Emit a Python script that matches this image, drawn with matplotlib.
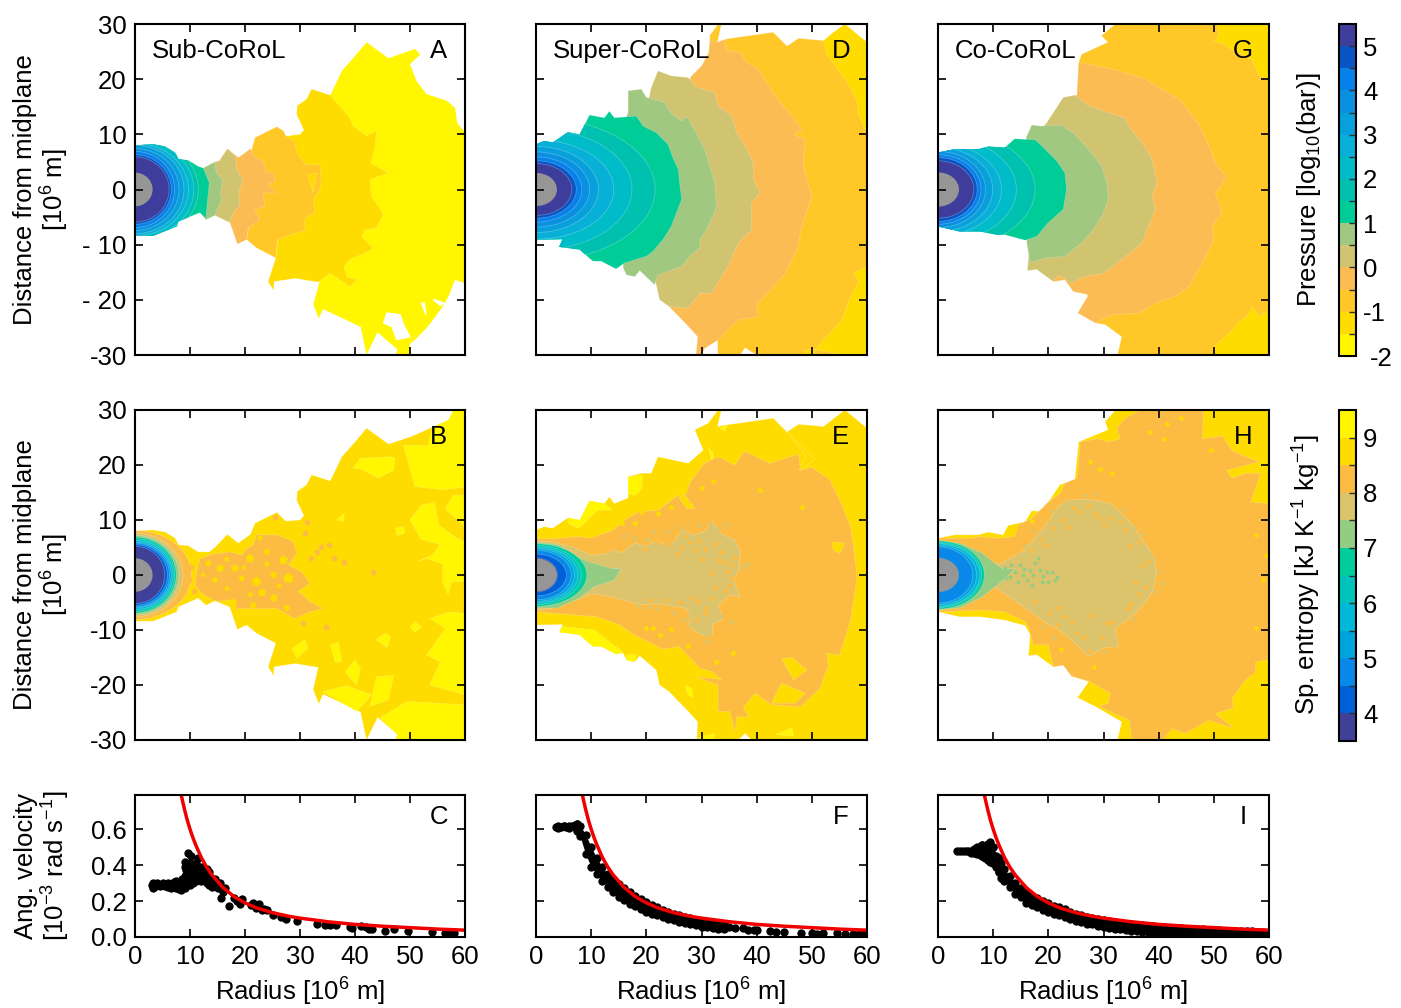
import matplotlib
matplotlib.use("Agg")
import matplotlib.pyplot as plt
from matplotlib.cm import ScalarMappable
from matplotlib.colors import BoundaryNorm, ListedColormap
from matplotlib.patches import Ellipse

plt.rcParams['font.family'] = ['Liberation Sans', 'DejaVu Sans']
plt.rcParams['mathtext.fontset'] = 'custom'
plt.rcParams['mathtext.rm'] = 'Liberation Sans'
plt.rcParams['mathtext.it'] = 'Liberation Sans'
plt.rcParams['mathtext.default'] = 'regular'

# colour scales (low value first)
pressure_edges = [-2, -1.5, -1, -0.5, 0, 0.5, 1, 1.5, 2, 2.5, 3, 3.5, 4, 4.5, 5, 5.5]
pressure_colours = ['#fff600', '#ffdc00', '#ffc828', '#fcbc54', '#d0c470', '#a0c880', '#00cc98', '#00c0b0',
                    '#00bcc8', '#08b0d8', '#08a0da', '#0a90e0', '#0880ea', '#0a55c4', '#3e3d9c']
entropy_edges = [3.5, 4, 4.5, 5, 5.5, 6, 6.5, 7, 7.5, 8, 8.5, 9, 9.5]
entropy_colours = ['#404098', '#0060d8', '#0888e8', '#00a4dc', '#00b8d8', '#00c4bc', '#00cc9c', '#94cc84',
                   '#dcc46c', '#fcbc44', '#ffdc00', '#fff600']

# ---- panel A, pressure contours (radius, height), 10^6 m
A_yellow = [(35.5, 17.1), (37.6, 21.5), (40, 24.2), (42.1, 26.7), (46.1, 23.8), (50.9, 25.5), (51.9, 24.5), (50, 22.7),
            (51.2, 19.7), (53, 17.3), (56.7, 16.1), (58.2, 14.8), (58.6, 12.1), (60, 10.3), (61, 10.3), (61, -17),
            (60, -17), (58.2, -16.4), (57, -19.4), (56, -21.2), (53.3, -24.8), (51.2, -27), (50, -28), (50, -31),
            (47, -31), (47.7, -29), (44.1, -25.9), (42.1, -30), (41, -24.9), (34.2, -21.7), (33.4, -23.4),
            (32.4, -20.8), (33.5, -16.9)]
A_gold = [(27.6, 9.7), (30, 10), (30.7, 10.8), (29.4, 13.6), (29.5, 15.2), (31.2, 16.4), (32.1, 18.2), (35.5, 17.1),
          (38.8, 13.3), (39.7, 11.5), (42.1, 9.7), (43.9, 10.6), (43.6, 7.3), (42.8, 4.8), (46.1, 3), (42.7, 1.8),
          (43, -1.2), (45.2, -4.5), (43.9, -7), (41.8, -7.3), (41.2, -8.5), (43.3, -10.6), (42.4, -11.2), (39.1, -12.7),
          (38, -13.9), (38.5, -15.8), (40.4, -16.4), (39.1, -17.6), (35.5, -15.2), (33.3, -16.8), (29.1, -16.1),
          (25.3, -16.7), (25.2, -18.3), (24.2, -16.7), (25.6, -12.4), (25.9, -9.1)]
A_orange = [(21.8, 9.4), (25.8, 11.4), (27, 10.6), (27.4, 9.8), (29.1, 8.5), (29.4, 6.7), (30.3, 5.5), (31.2, 4.5),
            (33.6, 4.5), (33.9, 1.8), (33.6, 0), (32.4, -1.8), (32.7, -4.2), (30.9, -5.2), (30.9, -7.3), (25.9, -9.1),
            (25.6, -12.4), (22.1, -10.6), (20.3, -9.1), (20.6, -7), (18, -5)]
A_light = [(16.8, 7.4), (18.8, 5.8), (21, 7.4), (21.8, 5.8), (23.3, 5.2), (23.9, 3), (25.2, 3), (25.4, 1.5), (24.3, 1),
           (25.5, -0.6), (23.3, -0.6), (23.6, -3), (21.8, -3.6), (22.7, -5.5), (20.6, -7), (20.3, -9.1), (18.6, -9.9),
           (17.2, -5.8), (15, 0)]
A_tan = [(14.5, 5), (15.3, 5.2), (16.8, 7.4), (18.2, 6.1), (18.5, 3.6), (19.6, 1.7), (18.8, -0.6), (19.1, -2.7),
         (17.9, -4.2), (17.2, -6), (14.5, -4.7), (13, 0)]
A_green = [(12.4, 3.9), (14.5, 5), (14.8, 3), (15.9, 1.7), (15.5, -0.9), (15.8, -1.8), (14.5, -4.7), (12.9, -5.5),
           (11.8, -4.2), (11, 0)]
A_teal = [(0, 8), (3.3, 8.2), (5.5, 7.8), (7.3, 6.7), (7.9, 5.5), (9.7, 5.3), (11.5, 4.2), (12.4, 3.9), (13.5, 1.2),
          (13.2, -1.8), (12.9, -5.2), (11.8, -4.2), (7.9, -5.8), (7.6, -6.7), (3.3, -8.4), (0, -8.4)]
A_gold_bit = [(31.4, 2.7), (33, 3), (32.4, -0.6)]
A_hole_1 = [(45.8, -22.4), (48.2, -22.7), (48.8, -24.5), (50, -26.7), (47.6, -27.2), (46.7, -24.8), (45.2, -24.2)]
A_hole_2 = [(52.1, -20.6), (52.6, -20.6), (52.9, -22.7)]
A_hole_3 = [(54.2, -19.9), (56.2, -20.6), (55.5, -21)]
A_ring_levels = [1.75, 2.25, 2.75, 3.25, 3.75, 4.25, 4.75, 5.25]
A_ring_a = [11.5, 10.7, 9.7, 8.9, 8, 7.2, 6.6, 6.2]
A_ring_b = [9.5, 9, 8.4, 8, 7.4, 6.9, 6.3, 5.9]
A_core = (3.2, 3.05)

# ---- panel D
D_orange = [(31.5, 27.9), (33, 30), (33.6, 30), (32.9, 26.7), (34.6, 27.3), (38, 27.8), (43, 28.5), (45.5, 26),
            (47.6, 27.4), (52.1, 27), (61, 27), (61, -31), (40, -31), (40, -30), (37.9, -28.7), (37, -30), (37, -31),
            (33, -31)]
D_gold_top = [(52.1, 27), (53.9, 28.5), (56, 30), (60, 26.7), (61, 26), (61, 10.5), (59.7, 10.6), (58.4, 14),
              (58.1, 16.4), (56, 20), (52.7, 24.5)]
D_gold_low = [(60, -13.9), (57.6, -15.2), (58.5, -16.7), (57, -19.4), (55.5, -23.6), (50.6, -29), (50, -31), (48.8, -31),
              (48.8, -29.2), (50, -29), (50.6, -29), (61, -31), (61, -13.9)]
D_light = [(28, 20.4), (30, 22.4), (31.3, 24.8), (31.5, 27), (32.9, 26.7), (34.2, 27.2), (34.5, 25.2), (37.3, 24.8),
           (37.9, 23.3), (40.3, 21.8), (42.7, 17.9), (44.5, 15.5), (46.4, 13.3), (48.2, 10.8), (46.7, 10), (48.7, 9.1),
           (48.5, 4.2), (50, -1.3), (48.2, -6.7), (47.3, -10.9), (45.2, -15.2), (43.6, -17), (40, -20.9), (40.3, -23),
           (36.7, -23.6), (33, -27.3), (30.6, -28.8), (29.4, -31), (29, -30), (29.3, -26.7), (27.6, -24.8), (24.1, -21.2),
           (22, -15)]
D_tan = [(20.9, 18.5), (22.1, 21.5), (24.5, 20.6), (27.6, 20.3), (29.1, 18.5), (32.4, 17.6), (33, 15.2), (35.5, 13.3),
         (36.4, 10.3), (37.9, 7.9), (39.4, 4.8), (39.4, 1.8), (40.6, -0.5), (39.1, -2.4), (39.1, -7.3), (36.7, -9.7),
         (34.8, -13.9), (33.6, -15.8), (31.8, -18.8), (29.7, -18.8), (27.6, -21.5), (24.1, -21.2), (22.4, -20),
         (21.8, -17.3), (20, -10), (19, 10)]
D_green = [(16.7, 17.9), (19.1, 18.2), (20, 16.7), (23.3, 15.8), (24.5, 13.9), (26.4, 12.4), (27.3, 13.3), (28.2, 11.8),
           (30.6, 7.3), (31.5, 4.2), (32.4, 1.2), (32.7, -3.3), (31.2, -6.7), (29.7, -9.1), (29.7, -10.6), (28.2, -11.8),
           (26.4, -13.9), (22.1, -15.5), (21.5, -17.3), (18.8, -14.7), (17.9, -15.8), (16.4, -15.5), (15.8, -14.2),
           (16, 12), (16.7, 14)]
D_teal = [(0, 8.2), (1.5, 8.8), (3, 8.5), (5.8, 10.4), (7.9, 10), (9.7, 13.5), (12.4, 13), (13.3, 14.2), (14.2, 13),
          (18.2, 13.3), (19.4, 11.5), (21.8, 10.3), (23.9, 8.2), (24.8, 5.8), (25.8, 3.6), (26.1, 0.6), (26.4, -1.8),
          (24.5, -6.7), (23, -9.1), (21.2, -11.2), (20, -12.1), (16.1, -13.3), (14.5, -14.4), (11.8, -13), (10.3, -13),
          (7.9, -10.9), (4.2, -10.4), (4.8, -9), (0, -9.1)]
D_ring_levels = [1.75, 2.25, 2.75, 3.25, 3.75, 4.25, 4.75, 5.25]
D_ring_a = [21.6, 17.4, 14.1, 11.3, 9.7, 8.3, 7.3, 6.5]
D_ring_b = [13, 11, 9, 7.8, 6.8, 5.9, 5.2, 4.7]
D_core = (3.8, 3)

# ---- panel G
G_orange = [(32.4, 30.2), (29.6, 27.9), (30.8, 26.7), (26, 24.5), (25.5, 23), (25.2, 17.3), (24, 10), (27, -19),
            (28.5, -24.2), (30.3, -24.5), (33.3, -26.7), (32.3, -31), (61, -31), (61, 30.2)]
G_gold_top = [(50.6, 30.2), (50.9, 27.6), (49.7, 26.7), (51.2, 26.7), (53.6, 25.2), (56.9, 23.6), (58.2, 20.6),
              (59.7, 20), (61, 20), (61, 30.2)]
G_gold_low = [(49.9, -31), (50, -28.5), (53.3, -25.5), (54.5, -24), (56, -23), (57, -21.2), (58.2, -23), (59.7, -22.1),
              (61, -20.6), (61, -31)]
G_light = [(25.5, 23), (30.3, 22.1), (32.7, 21.5), (37.6, 20), (40, 18.5), (43.6, 16.4), (45.5, 14.2), (47.3, 11.8),
           (49.1, 7.9), (50.3, 4.8), (52.4, 2.1), (50.3, -0.6), (51.5, -4.2), (49.7, -6.7), (50, -9.1), (47.9, -13.3),
           (45.5, -17.6), (43, -19.4), (39.4, -20.6), (36.4, -22.4), (31.5, -22.7), (28.5, -24.2), (25.3, -22.4),
           (27.3, -19.1), (24.5, -18.5), (23, -16.4), (20.9, -16.7), (22, 10), (22.7, 16.5), (25.2, 17.1)]
G_tan = [(22.7, 16.7), (24.8, 17.1), (27.3, 15.2), (30.9, 13.9), (33.9, 13), (34.5, 11.5), (37, 8.5), (38.8, 5.5),
         (39.7, 1.2), (38.8, -1.2), (39.4, -3.6), (37.9, -7.3), (37, -9.7), (33.3, -12.7), (30, -15.2), (26.4, -15.8),
         (24.2, -17), (21.8, -15.5), (20.9, -16.7), (17.9, -14.5), (16.2, -14.7), (17, -5), (17, 9), (19.7, 12.1)]
G_green = [(17, 11.7), (18.5, 11.5), (22.4, 11.7), (24.8, 10), (27.3, 7.3), (29.7, 4.2), (30.6, 1.2), (30.9, -1.8),
           (29.7, -4.8), (27.9, -7.6), (26, -9.7), (23, -12.1), (19.7, -12.4), (16.7, -13.2), (16.1, -9.7), (16, 9.5)]
G_teal = [(0, 6.7), (3, 7.3), (7.3, 7.3), (9.1, 7.8), (12.1, 7.6), (13.9, 9.2), (17.6, 9), (18.5, 8.2), (21.5, 5.2),
          (23, 3), (23.3, 0), (22.7, -3.6), (20, -6), (17.9, -8.5), (15.8, -9.2), (12.1, -8.2), (10.6, -8.2), (7.6, -7.6),
          (3.9, -7.6), (0, -6.7)]
G_ring_levels = [1.75, 2.25, 2.75, 3.25, 3.75, 4.25, 4.75, 5.25]
G_ring_a = [17.6, 14.2, 11.5, 9.9, 8.6, 7.8, 7.1, 6.5]
G_ring_b = [11, 9.6, 8.4, 7.6, 6.9, 6.3, 5.8, 5.2]
G_core = (3.8, 3.1)

# ---- panel B, entropy contours
B_gold = [(0, 8), (3.3, 8.2), (5.5, 7.8), (7.3, 6.7), (7.9, 5.5), (9.7, 5.3), (11.5, 4.2), (13.5, 4.2), (14.5, 5),
          (16.8, 7.4), (18.8, 5.8), (21, 7.4), (21.8, 9.4), (25.8, 11.4), (27.4, 9.8), (30, 10), (30.7, 10.8),
          (29.4, 13.6), (29.5, 15.2), (31.2, 16.4), (32.1, 18.2), (35.5, 17.1), (37.6, 21.5), (40, 24.2), (42.1, 26.7),
          (46.1, 23.8), (50.3, 25.2), (57, 28.2), (57.9, 30), (61, 30.2), (61, -31), (47, -31), (47.7, -29), (44.1, -25.9),
          (42.1, -30), (41, -24.9), (34.2, -21.7), (33.4, -23.4), (32.4, -20.8), (33.3, -16.8), (29.1, -16.1),
          (25.3, -16.7), (25.2, -18.3), (24.2, -16.7), (25.6, -12.4), (22.1, -10.6), (20.3, -9.1), (18.6, -9.9),
          (17.2, -5.8), (14.5, -4.7), (12.9, -5.5), (11.5, -4.2), (7.9, -5.8), (7.6, -6.7), (3.3, -8.4), (0, -8.4)]
B_yellow_1 = [(48.8, 23.6), (50.9, 16.1), (55.5, 15.5), (59.7, 15.9), (61, 15.9), (61, 30.2), (57.9, 30), (57, 28.2),
              (54, 26.8), (53.3, 23.6)]
B_yellow_2 = [(39.7, 19.4), (40.9, 21.2), (46.4, 21.5), (47.3, 21.2), (47, 19), (44.2, 17.6), (40.9, 19.4)]
B_yellow_3 = [(28.6, -13.3), (30.9, -11.8), (31.5, -13.3), (29.4, -15.2)]
B_yellow_4 = [(35.5, -12.7), (37, -12.2), (37.6, -15.8), (36.4, -15.8)]
B_yellow_5 = [(38.2, -17.6), (40, -15.5), (41, -16.9), (40.3, -20)]
B_yellow_6 = [(43.9, -18.5), (47, -18.2), (46.1, -22.7), (42.7, -23.9)]
B_yellow_7 = [(34.2, -21.2), (38.5, -20.1), (43, -21.8), (40.3, -24.8)]
B_yellow_8 = [(44.5, -26), (49.4, -23), (60, -23.6), (61, -23.6), (61, -31), (47, -31), (47.7, -29)]
B_yellow_9 = [(53.6, -7.9), (57.3, -6.7), (60, -7), (61, -7), (61, -22), (57.9, -21.2), (53.6, -20), (55.5, -15.8),
              (53, -14.5), (53.9, -13.3), (56.4, -9.7)]
B_yellow_10 = [(43.8, -11.8), (45.5, -10.6), (46.5, -11.2), (45.8, -13.2)]
B_yellow_11 = [(50, -9.4), (50.9, -8.5), (52.1, -9.4), (50.9, -10.4)]
B_yellow_12 = [(47.3, 8.5), (48.8, 8.8), (49.1, 7.6), (47.6, 7.2)]
B_yellow_13 = [(36.7, 10), (38, 11.2), (38, 9.7)]
B_yellow_14 = [(50, 10), (52.1, 12.7), (54.5, 13.3), (55.2, 9.1), (58.5, 6.7), (61, 5.5), (61, -1.2), (57.6, -1.2),
               (56.9, -3.6), (55.9, -1.2), (56, 2), (53, 3), (51.2, 2.4), (54, 3.6), (55.5, 5.5), (52, 6.5)]
B_yellow_15 = [(56.4, 12), (57.9, 14.5), (61, 14.5), (61, 7.3), (59, 9.7)]
B_light = [(11.8, 3), (14.2, 3.8), (17.3, 4.2), (19.4, 3.6), (20.3, 4.8), (21.5, 5.5), (22.1, 7.3), (25.8, 7.3), (28.8, 6.1),
           (29.4, 3.9), (27.9, 1.8), (30.3, 0.6), (31.8, -1.5), (29.7, -3), (31.8, -4.8), (34.2, -6.1), (31.8, -6.7),
           (29.1, -7.9), (25.8, -6.1), (22.7, -6.1), (18.5, -6.1), (17.3, -4.5), (14.8, -4.8), (12.4, -3.6), (10.9, -1.8),
           (11.2, 0.6)]
B_gold_dots_r = [13.3, 15.5, 16.7, 18.2, 20.9, 19.4, 22.1, 25.2, 27.9, 27, 23.9, 22.7, 17.9, 21.5, 16.7, 14.5, 12.4, 25.2,
                 27.6, 24, 19.8, 23.1, 21, 26.2]
B_gold_dots_z = [2.1, 1.2, 2.9, 1.2, 3, -0.6, -1.2, 0, -0.6, 2.7, 4.2, 6.7, -5, -5.5, -2.5, -0.9, 0, -4.2, -6, 2, 1.4,
                 -3.2, -3.6, -2]
B_gold_dots_s = [22, 34, 16, 30, 44, 20, 52, 28, 60, 46, 24, 18, 38, 26, 14, 20, 12, 32, 26, 18, 12, 36, 16, 14]
B_light_dots_r = [33, 30.9, 31.2, 25.5, 34.8, 43.3, 32, 33.8, 36.2, 38, 30.5, 35.3, 10.2, 9.8, 10.8]
B_light_dots_z = [4.2, 7.6, 9.7, 10.6, -9.4, 0.6, 3, 5, 3, 2.4, -8.8, 5.5, 1.5, -1, -3]
B_ring_levels = [8.25, 7.75, 7.25, 6.75, 6.25, 5.75, 5.25, 4.75, 4.25, 3.75]
B_ring_a = [10.3, 8.7, 8, 7.5, 7.2, 6.9, 6.6, 6.3, 5.9, 5.4]
B_ring_b = [8.1, 7.6, 7.2, 6.9, 6.6, 6.3, 6, 5.8, 5.5, 5.2]
B_core = (3.2, 3.05)

# ---- panel E
E_gold = [(0, 8.2), (1.5, 8.8), (3, 8.5), (5.8, 10.4), (7.9, 10), (9.7, 13.5), (12.4, 13), (13.3, 14.2), (14.2, 13),
          (16.7, 14), (16.7, 17.9), (19.1, 18.5), (20.9, 18.5), (22.1, 21.5), (27.6, 20.3), (30.3, 22.7), (28.8, 26.4),
          (31.2, 27.6), (33, 30), (33.6, 30), (32.9, 27), (34.5, 27.3), (38.2, 27.8), (43, 28.5), (45.5, 26), (47.6, 27.4),
          (52.1, 27), (56, 30), (60, 26.7), (61, 26.7), (61, -31), (40, -31), (37.9, -28.8), (36.7, -30), (29.1, -31),
          (29.3, -26.7), (27.6, -24.8), (24.1, -21.2), (22.4, -20), (21.8, -17.3), (18.8, -14.7), (17.9, -15.8),
          (16.4, -15.5), (15.8, -14.2), (14.5, -14.4), (11.8, -13), (10.3, -13), (7.9, -10.9), (4.2, -10.4), (4.8, -9),
          (0, -9.1)]
E_yellow_1 = [(5.8, 10.4), (7.9, 10), (9.7, 13.5), (12.4, 13), (13.9, 11.8), (11.2, 11.8), (9.4, 10), (7.6, 8.5), (5.8, 9.4)]
E_yellow_2 = [(16.7, 17.9), (19.4, 18.2), (19.1, 15.5), (17.9, 14.5), (16.7, 14.8)]
E_yellow_3 = [(4.2, -10.4), (4.8, -9.4), (7.9, -9.7), (10.6, -10), (13.6, -12.4), (15.8, -14), (14.5, -14.4), (11.8, -13),
              (10.3, -13), (7.9, -10.9)]
E_yellow_4 = [(16.4, -15.5), (16.4, -14.5), (18.2, -14.5), (17.9, -15.8)]
E_yellow_5 = [(43.4, -29), (46.4, -27.8), (46.7, -29.3)]
E_yellow_6 = [(29, -29.7), (32.4, -28.8), (32.4, -30)]
E_yellow_7 = [(27, -20), (28.2, -20.6), (28.5, -22.4), (27.6, -21.8)]
E_yellow_8 = [(31.2, 23.3), (32.1, 22.1), (32.1, 20)]
E_yellow_9 = [(33.3, 26.7), (34.8, 27.3), (34.2, 26.1)]
E_light = [(0, 6.6), (3.3, 6.6), (7.6, 7), (10, 6.7), (14, 8.2), (16.1, 10), (18.5, 11.5), (22.1, 11.8), (25.8, 14.5),
           (26.8, 14), (28, 17), (30.5, 20.3), (33, 21.5), (36, 20), (37.8, 22.5), (42.4, 20.3), (47.6, 22), (48, 19),
           (50, 19.6), (53.3, 17.3), (55.1, 13.6), (57, 8.9), (57.6, 5), (58.2, -0.3), (57, -8.5), (55, -14.6), (52.7, -14.2),
           (53, -16.4), (51.5, -20.6), (47.9, -24), (42.7, -23.6), (39.7, -21.5), (37.6, -24), (38.5, -25.8), (36.4, -25.8),
           (36.1, -28.5), (35.1, -24.8), (33, -24.8), (33, -20), (29, -18.5), (33.6, -19), (31.8, -17.5), (29.7, -17),
           (26, -13), (23, -13.5), (18, -11), (15, -9), (11, -7.6), (0, -6.7)]
E_gold_1 = [(44.5, -15.2), (46.4, -15), (49.1, -17.3), (46.7, -19.1)]
E_gold_2 = [(44.5, -19.7), (48.8, -21.5), (47, -23.3), (42.7, -23.3)]
E_gold_3 = [(53.6, 6), (56, 5.8), (55.1, 3.9), (53.9, 4.5)]
E_gold_4 = [(27, 14.5), (28.8, 12.1), (27.3, 12.1), (25.9, 14.2)]
E_gold_5 = [(45.5, 26), (48.9, 21.7), (47.6, 19), (50, 20.6), (50.6, 21), (46, 25.5)]
E_tan = [(0, 6.2), (3, 6), (7, 5), (10, 3.6), (13, 3.9), (14, 4.6), (15.5, 4), (17, 5.2), (18, 5.8), (20, 5.2), (22, 6.4), (23.5, 5.4),
         (25, 6), (26.5, 8.2), (28.5, 7.2), (30.6, 8), (32, 9.6), (33, 8), (34.5, 7), (36, 6.4), (37, 4.5), (36.8, 1), (35.8, -1),
         (37, -4), (35.2, -3.6), (33, -5.5), (34, -8), (32, -9), (32, -10.9), (30, -10.9), (27.5, -9.4), (28.2, -7.5), (27, -6),
         (24.5, -5.6), (22, -5.2), (19, -5.4), (16, -4.6), (13, -3.8), (10, -3.4), (6, -5), (3, -6), (0, -6.4)]
E_green = [(0, 6), (4, 5.5), (8.2, 3), (9.6, 2.4), (13.6, 1.2), (15.4, 1.1), (14.2, -0.9), (10.6, -2.1), (7.9, -4.2),
           (3.9, -6), (0, -6)]
E_light_dots_r = [28.8, 30.6, 27.9, 34.2, 35.5, 32.4, 34.2, 29.4, 30.9, 33.6, 31.8, 27.3, 30.6, 35.5, 28.2, 31.8, 26.2, 29.5,
                  33.2, 24, 22, 35, 19.5, 25.5, 27, 30, 32.5, 29, 26, 23.5, 36, 34.8, 20.7]
E_light_dots_z = [4.5, 4.8, 6, 2.4, -0.6, -2.4, -3, -4.8, -6, 4.2, 0.3, -9.4, -7, 1.8, -4.2, -4.2, 5, 6.2, 2.8, 5.5, 6, -1.8,
                  4.8, 3.8, 7, 2.9, 5.6, -8.2, -4.9, -4.5, 3, 0.7, -4.6]
E_tan_dots_r = [26.4, 31.5, 33, 37.6, 27.5, 16, 17.9, 20.2, 22, 24.5, 30.9, 35.5, 18.5, 20.5, 28, 33.5, 25, 24, 29.5, 34.5, 31, 21.3,
                26.8, 38.2]
E_tan_dots_z = [8.5, 9.4, 8.5, 1.5, 7.2, 7, 6.7, 6.5, -6, -5.2, -10.9, -8.5, -5.4, -5.8, -7.5, -7.5, -7, 8, 9, 9.3, -12, 7.8, -8, 2]
E_gold_dots_r = [22.1, 24.5, 19.1, 27, 30, 32.1, 48.2, 40.6, 21.2, 14.5, 17.9, 24.8, 32.7, 35.8, 27.6, 20, 22.5, 15.5, 18, 24.5]
E_gold_dots_z = [11.2, 12.4, 11.5, 15.5, 15.8, 17, 12.4, 15.5, -9.7, -11.8, -11.8, -13.9, -15.8, -14.2, -13, -9.7, -11, 9.5, 9.5,
                 -9.8]
E_ring_levels = [6.75, 6.25, 5.75, 5.25, 4.75, 4.25, 3.75]
E_ring_a = [9.2, 8.2, 7.6, 7, 6.4, 5.5, 3.9]
E_ring_b = [5.7, 5.4, 5.1, 4.8, 4.5, 3.8, 3.1]
E_core = (3.8, 3)

# ---- panel H
H_gold = [(0, 6.7), (3, 7.3), (7.3, 7.3), (9.1, 7.8), (11.8, 7.3), (12.7, 9), (15.8, 9.7), (17, 11.7), (18.8, 11.5),
          (22.1, 16.4), (24.8, 17.3), (25.5, 24.2), (30.8, 26.4), (30.3, 27.9), (32.4, 30.2), (61, 30.2), (61, -31),
          (32.3, -31), (33.3, -26.7), (28.5, -23.9), (25.3, -22.3), (27.3, -19.4), (24.2, -18.4), (22.7, -16.4),
          (20.9, -16.7), (17.9, -14.5), (16.4, -14.7), (16.7, -10.9), (15.8, -9.2), (12.1, -8.2), (7.6, -7.6), (3.9, -7.6),
          (0, -6.7)]
H_light = [(0, 6.7), (6, 6.7), (7.6, 7), (11.2, 6.7), (13.9, 7), (14.5, 9.1), (17, 10.3), (20, 13.3), (22.1, 14.8), (23, 16.7),
           (25.2, 17.6), (25.8, 24.2), (29.1, 24.8), (30.9, 24.2), (33, 24.8), (32.4, 26.7), (33.9, 28.5), (36.4, 29.9),
           (61, 30.2), (61, -31), (35.2, -31), (34.7, -26.4), (33.3, -25.8), (29.1, -23.9), (30.9, -23.3), (31.2, -21.5),
           (27.3, -19.3), (24.2, -18.4), (22.7, -16.4), (20.9, -16.7), (20, -12.7), (17.3, -12.7), (16.4, -9.4), (15.8, -8.5),
           (12.1, -6.7), (7.6, -6.4), (0, -6.7)]
H_gold_top = [(48.2, 30.2), (47.9, 24.8), (51.5, 25.3), (53.3, 22.7), (55.8, 21.5), (58.2, 20.6), (52.4, 19), (53.3, 17.6),
              (55.8, 18.5), (58.5, 18.5), (56.7, 13.3), (59.4, 13), (61, 12.7), (61, 30.2)]
H_gold_low = [(61, -15.2), (57.6, -15.8), (57.6, -17.6), (55.5, -19.4), (53.3, -22.4), (53.6, -24.2), (50.3, -25.2),
              (53.6, -27.9), (49.1, -26.4), (44.8, -28.8), (42.4, -27.9), (40, -31), (61, -31)]
H_tan = [(10, 1.5), (13, 3), (15.8, 4.6), (17.5, 6.6), (19, 8.4), (20.2, 10), (21.8, 12.4), (23.5, 13.6), (26.5, 13.8), (29, 13.5),
         (31.5, 12.8), (33, 11.4), (35.1, 9.2), (36.5, 7.2), (37.8, 5.4), (39.2, 3.2), (39.6, 0.8), (39.3, -1.6), (38.6, -3.4),
         (37.4, -5.2), (35.8, -6.9), (34, -8.4), (32.1, -9.7), (32.7, -13), (30, -13.2), (27.3, -14.8), (25.8, -13.3), (23.8, -11.4),
         (21.8, -9.9), (19.4, -8.6), (17.5, -7.2), (15.8, -6), (13, -4), (10, -2), (8, -0.5)]
H_green = [(0, 6.2), (4, 5.8), (8, 4), (10.5, 2), (12, 1), (14, 1.2), (12, -0.8), (10.5, -2), (8, -4), (4, -6), (0, -6.3)]
H_green_dots_r = [11.2, 12.1, 13, 13.9, 14.8, 15.4, 16.1, 16.7, 17.3, 17.6, 18.5, 18.8, 19.7, 20.6, 21.2, 21.5, 13.3, 14.5,
                  18.2, 17, 12.4, 15.6, 19, 20]
H_green_dots_z = [0, 1.2, -0.3, 0.6, 1.8, 0, -0.9, 0.9, 0, 2.1, 0.9, -1.2, 0.6, 0.6, -0.9, -0.3, 1.8, -1.2, 3, -1.8, -0.6, 1,
                  -0.2, -1.2]
H_light_dots_r = [20.6, 23.6, 26, 29.1, 31.2, 33.9, 36.4, 37, 35.8, 34.5, 31.5, 27.9, 24.2, 21.5, 21.8, 17.6, 27.3, 29.8,
                  32.7, 19.5, 22.5, 30, 34.8, 36.5, 25, 28.5, 18.5, 16.8, 24.6, 27.2, 33, 38, 37.6, 35, 26.5, 23, 20.2, 30.7]
H_light_dots_z = [8.5, 8.8, 11.5, 10.3, 10.3, 8.2, 6, 1.8, -1.2, -6, -8.5, -7.3, -8.5, -9.1, -6, -4.8, -13.9, -11.5, -10.9,
                  5.5, 10, 9, 5.2, -3.5, -10.5, 11, 6.6, 4.5, 12.2, 12.6, 9.7, 2.5, -2.2, -5.2, -11.2, -7.6, -7, -8.8]
H_tan_dots_r = [26.7, 23, 38.8, 39.1, 35.8, 13.9, 15.8, 18.2, 40, 37, 16.5, 14.5, 20.6, 28.5, 33.6, 40.6, 30, 19, 35.5, 17.4, 21]
H_tan_dots_z = [14.5, 13, 3, -3, 8.8, -4.2, 5.2, 6.7, 0.5, 7.5, -5.5, 3.6, 11.6, 14.7, 12, -1.5, -14, -9.2, -8, 8, -11.5]
H_gold_dots_r = [31.5, 29.4, 38.5, 40.9, 49.4, 57.6, 59.4, 59, 57.6, 28.2, 41.5, 44, 22.3, 30, 27.5, 14, 17, 18.5]
H_gold_dots_z = [18.5, 19.3, 26, 24.8, 22.7, 7.3, 3.6, -0.9, -9.7, -16.7, 27.5, 28.5, -13.5, 25, 20.5, 8.5, 9.8, -13.5]
H_ring_levels = [6.75, 6.25, 5.75, 5.25, 4.75]
H_ring_a = [8.4, 7.9, 7.6, 7, 6.3]
H_ring_b = [6.2, 5.9, 5.7, 5.4, 5.1]
H_core = (3.8, 3.1)

# ---- angular velocity panels
C_r = [3, 3.2, 3.5, 4, 4.5, 5, 5.5, 6, 6.5, 7, 7.5, 8, 8, 8.5, 8.5, 9, 9, 9, 9.1, 9.5, 9.5, 9.7, 10, 10, 10, 10.2, 10.5, 10.5,
       10.5, 11, 11, 11, 11.4, 11.5, 11.5, 12, 12, 12, 12.5, 12.5, 13, 13, 13, 13.5, 13.5, 14, 14, 14.5, 14.5, 15, 15.5, 15.7,
       16, 16.3, 17, 18, 18.5, 19, 19.5, 21, 21.5, 22, 22.5, 23, 23.5, 24, 25, 26.5, 27.5, 29.5, 33, 34.5, 35.5, 36.5, 39, 39.5,
       41, 42, 42.5, 43, 45.5, 47, 49.7, 54, 56.3, 57, 57.7, 58,
       3.2, 4, 5, 6, 6.5, 7, 7.5, 8.3, 9, 9.3, 10, 10.5, 11, 11.5, 12, 12.5, 13, 13.5, 14, 14.5, 15]
C_w = [0.29, 0.3, 0.28, 0.29, 0.285, 0.29, 0.285, 0.28, 0.285, 0.28, 0.27, 0.265, 0.3, 0.28, 0.32, 0.29, 0.34, 0.39, 0.42, 0.3,
       0.35, 0.47, 0.32, 0.37, 0.41, 0.45, 0.3, 0.35, 0.4, 0.31, 0.36, 0.41, 0.44, 0.32, 0.37, 0.31, 0.35, 0.39, 0.33, 0.37,
       0.3, 0.34, 0.38, 0.29, 0.33, 0.28, 0.32, 0.29, 0.32, 0.27, 0.3, 0.215, 0.25, 0.27, 0.175, 0.215, 0.2, 0.185, 0.21, 0.18,
       0.19, 0.16, 0.185, 0.15, 0.155, 0.15, 0.125, 0.11, 0.1, 0.09, 0.07, 0.065, 0.065, 0.065, 0.055, 0.05, 0.06, 0.055, 0.045,
       0.045, 0.035, 0.045, 0.035, 0.03, 0.025, 0.02, 0.02, 0.02,
       0.275, 0.3, 0.3, 0.3, 0.27, 0.305, 0.31, 0.26, 0.27, 0.37, 0.29, 0.33, 0.38, 0.35, 0.33, 0.35, 0.32, 0.36, 0.3, 0.3, 0.3]
F_r = [3.6, 4, 4.5, 5, 5.5, 6, 6.5, 7, 7.5, 4, 5, 6, 7, 37.5, 38.5, 39.5, 40, 42.5, 43.5, 45, 48, 50, 52, 51, 54.5, 56, 57.5, 58.5,
       59.5, 60, 36, 35]
F_w = [0.61, 0.605, 0.61, 0.615, 0.61, 0.615, 0.62, 0.625, 0.63, 0.615, 0.62, 0.605, 0.61, 0.05, 0.04, 0.04, 0.04, 0.035, 0.03,
       0.03, 0.025, 0.02, 0.02, 0.015, 0.02, 0.015, 0.015, 0.015, 0.015, 0.015, 0.05, 0.055]
F_band_r = [7.5, 8, 9, 10, 11, 12, 13, 14, 15, 16, 17, 18, 19, 20, 21, 22, 23, 24, 25, 26, 27, 28, 29, 30, 31, 32, 33, 34]
F_band_low = [0.59, 0.56, 0.46, 0.39, 0.35, 0.31, 0.28, 0.25, 0.225, 0.205, 0.185, 0.17, 0.155, 0.14, 0.13, 0.12, 0.11, 0.1, 0.095,
              0.085, 0.08, 0.07, 0.065, 0.055, 0.053, 0.05, 0.047, 0.045]
F_band_high = [0.63, 0.62, 0.57, 0.5, 0.44, 0.39, 0.35, 0.32, 0.295, 0.27, 0.25, 0.23, 0.21, 0.195, 0.18, 0.165, 0.15, 0.14, 0.13,
               0.12, 0.112, 0.105, 0.097, 0.09, 0.085, 0.08, 0.075, 0.07]
I_plateau_r = [3.5, 4, 5, 6, 6.5, 6.5, 7, 7, 7.5, 7.5, 8, 8, 8.5, 8.5, 9, 9, 9.5, 9.5, 10, 10, 9.5, 10.5, 10.5, 11, 11, 11.5, 11.5,
               4.5, 5.5, 6, 8, 8.7, 9.3]
I_plateau_w = [0.48, 0.48, 0.48, 0.48, 0.47, 0.49, 0.46, 0.5, 0.46, 0.5, 0.45, 0.51, 0.44, 0.5, 0.43, 0.52, 0.42, 0.53, 0.41,
               0.5, 0.47, 0.39, 0.45, 0.36, 0.44, 0.33, 0.41, 0.48, 0.48, 0.47, 0.48, 0.47, 0.48]
I_band_r = [8, 9, 10, 11, 12, 13, 14, 15, 16, 17, 18, 19, 20, 21, 22, 23, 24, 25, 26, 27, 28, 29, 30, 31, 32, 33, 34, 35, 36, 37, 38, 39,
            40, 41, 42, 43, 44, 45, 46, 47, 48, 49, 50, 51, 52, 53, 54, 55, 56, 57, 58, 59, 60]
I_band_low = [0.45, 0.43, 0.41, 0.36, 0.31, 0.28, 0.24, 0.22, 0.19, 0.18, 0.165, 0.15, 0.14, 0.13, 0.12, 0.11, 0.1, 0.09, 0.085, 0.075,
              0.07, 0.063, 0.055, 0.05, 0.046, 0.042, 0.038, 0.034, 0.032, 0.03, 0.027, 0.025, 0.023, 0.021, 0.019, 0.017, 0.016,
              0.015, 0.014, 0.013, 0.012, 0.012, 0.011, 0.01, 0.01, 0.009, 0.009, 0.008, 0.008, 0.007, 0.007, 0.006, 0.006]
I_band_high = [0.51, 0.52, 0.5, 0.44, 0.38, 0.34, 0.3, 0.27, 0.25, 0.23, 0.215, 0.2, 0.19, 0.175, 0.165, 0.155, 0.14, 0.13, 0.12,
               0.112, 0.105, 0.1, 0.095, 0.09, 0.085, 0.08, 0.075, 0.07, 0.067, 0.064, 0.061, 0.059, 0.057, 0.055, 0.052, 0.05,
               0.048, 0.046, 0.044, 0.043, 0.042, 0.04, 0.038, 0.037, 0.036, 0.035, 0.034, 0.033, 0.032, 0.031, 0.03, 0.029, 0.028]
kepler_r = [8.4, 8.7, 9, 9.5, 10, 10.5, 11, 11.5, 12, 13, 14, 15, 16, 17, 18, 20, 22, 25, 28, 30, 35, 40, 45, 50, 55, 60]
kepler_w = [0.79, 0.75, 0.71, 0.65, 0.6, 0.555, 0.515, 0.48, 0.445, 0.39, 0.345, 0.31, 0.275, 0.25, 0.225, 0.19, 0.163, 0.135,
            0.115, 0.105, 0.085, 0.07, 0.06, 0.052, 0.044, 0.038]

x_ticks = [0, 10, 20, 30, 40, 50, 60]
z_ticks = [-30, -20, -10, 0, 10, 20, 30]
w_ticks = [0, 0.2, 0.4, 0.6]
z_labels_top = ['-30', '- 20', '- 10', '0', '10', '20', '30']
z_labels_mid = ['-30', '-20', '-10', '0', '10', '20', '30']
w_labels = ['0.0', '0.2', '0.4', '0.6']
column_left = [135, 536, 938]
row_top = [24, 410, 795]
row_height = [331, 330, 142]
FIG_W, FIG_H = 1401, 1008
FS = 18.5

pressure_cmap = ListedColormap(pressure_colours)
pressure_norm = BoundaryNorm(pressure_edges, pressure_cmap.N)
entropy_cmap = ListedColormap(entropy_colours)
entropy_norm = BoundaryNorm(entropy_edges, entropy_cmap.N)


def pix_axes(fig, left, top, width, height):
    return fig.add_axes([left / FIG_W, 1 - (top + height) / FIG_H, width / FIG_W, height / FIG_H])


def fill_poly(ax, verts, colour):
    r = [v[0] for v in verts]
    z = [v[1] for v in verts]
    return ax.fill(r, z, facecolor=colour, edgecolor=(1, 1, 1, 0.25), linewidth=0.5)[0]


def draw_contours(ax, bands, clip, levels, ring_a, ring_b, core, cmap, norm):
    clip_patch = None
    for level, verts in bands:
        patch = fill_poly(ax, verts, cmap(norm(level)))
        if verts is clip:
            clip_patch = patch
    for level, a, b in zip(levels, ring_a, ring_b):
        ring = Ellipse((0, 0), 2 * a, 2 * b, facecolor=cmap(norm(level)), edgecolor=(1, 1, 1, 0.3), linewidth=0.5)
        ax.add_patch(ring)
        ring.set_clip_path(clip_patch)
    ax.add_patch(Ellipse((0, 0), 2 * core[0], 2 * core[1], facecolor='#969696', edgecolor='none'))


def speckle(ax, r, z, colour, size=14):
    ax.scatter(r, z, s=size, marker='p', color=colour, linewidths=0)


def style_axes(ax, ylim, yticks, ylabels, xlabelled):
    ax.set_xlim(0, 60)
    ax.set_ylim(ylim)
    ax.set_xticks(x_ticks)
    ax.set_yticks(yticks)
    ax.set_xticklabels([str(t) for t in x_ticks] if xlabelled else [])
    ax.set_yticklabels(ylabels if ylabels else [])
    ax.tick_params(direction='in', top=True, right=True, length=6, width=1.2, labelsize=FS, pad=6)
    for lab in ax.get_yticklabels():
        lab.set_verticalalignment('center_baseline')
    for sp in ax.spines.values():
        sp.set_linewidth(1.5)


fig = plt.figure(figsize=(FIG_W / 100, FIG_H / 100), dpi=100)

# top row: pressure
ax_a = pix_axes(fig, column_left[0], row_top[0], 330, row_height[0])
ax_d = pix_axes(fig, column_left[1], row_top[0], 331, row_height[0])
ax_g = pix_axes(fig, column_left[2], row_top[0], 331, row_height[0])
draw_contours(ax_a, [(-1.75, A_yellow), (-1.25, A_gold), (-0.75, A_orange), (-1.25, A_gold_bit), (-0.25, A_light), (0.25, A_tan),
                     (0.75, A_green), (1.25, A_teal)],
              A_teal, A_ring_levels, A_ring_a, A_ring_b, A_core, pressure_cmap, pressure_norm)
for hole in [A_hole_1, A_hole_2, A_hole_3]:
    ax_a.fill([v[0] for v in hole], [v[1] for v in hole], color='white')
draw_contours(ax_d, [(-0.75, D_orange), (-1.25, D_gold_top), (-1.25, D_gold_low), (-0.25, D_light), (0.25, D_tan), (0.75, D_green),
                     (1.25, D_teal)],
              D_teal, D_ring_levels, D_ring_a, D_ring_b, D_core, pressure_cmap, pressure_norm)
draw_contours(ax_g, [(-0.75, G_orange), (-1.25, G_gold_top), (-1.25, G_gold_low), (-0.25, G_light), (0.25, G_tan), (0.75, G_green),
                     (1.25, G_teal)],
              G_teal, G_ring_levels, G_ring_a, G_ring_b, G_core, pressure_cmap, pressure_norm)

# middle row: entropy
ax_b = pix_axes(fig, column_left[0], row_top[1], 330, row_height[1])
ax_e = pix_axes(fig, column_left[1], row_top[1], 331, row_height[1])
ax_h = pix_axes(fig, column_left[2], row_top[1], 331, row_height[1])
GLD = entropy_cmap(entropy_norm(8.75))
LGT = entropy_cmap(entropy_norm(8.25))
TAN = entropy_cmap(entropy_norm(7.75))
GRN = entropy_cmap(entropy_norm(7.25))

b_yellows = [B_yellow_1, B_yellow_2, B_yellow_3, B_yellow_4, B_yellow_5, B_yellow_6, B_yellow_7, B_yellow_8, B_yellow_9,
             B_yellow_10, B_yellow_11, B_yellow_12, B_yellow_13, B_yellow_14, B_yellow_15]
draw_contours(ax_b, [(8.75, B_gold)] + [(9.25, p) for p in b_yellows] + [(8.25, B_light)],
              B_gold, B_ring_levels, B_ring_a, B_ring_b, B_core, entropy_cmap, entropy_norm)
speckle(ax_b, B_gold_dots_r, B_gold_dots_z, GLD, B_gold_dots_s)
speckle(ax_b, B_light_dots_r, B_light_dots_z, LGT, 22)

e_yellows = [E_yellow_1, E_yellow_2, E_yellow_3, E_yellow_4, E_yellow_5, E_yellow_6, E_yellow_7, E_yellow_8, E_yellow_9]
e_golds = [E_gold_1, E_gold_2, E_gold_3, E_gold_4, E_gold_5]
draw_contours(ax_e, [(8.75, E_gold)] + [(9.25, p) for p in e_yellows] + [(8.25, E_light)] + [(8.75, p) for p in e_golds]
              + [(7.75, E_tan), (7.25, E_green)],
              E_gold, E_ring_levels, E_ring_a, E_ring_b, E_core, entropy_cmap, entropy_norm)
speckle(ax_e, E_light_dots_r, E_light_dots_z, LGT, 16)
speckle(ax_e, E_tan_dots_r, E_tan_dots_z, TAN, 14)
speckle(ax_e, E_gold_dots_r, E_gold_dots_z, GLD, 16)

draw_contours(ax_h, [(8.75, H_gold), (8.25, H_light), (8.75, H_gold_top), (8.75, H_gold_low), (7.75, H_tan), (7.25, H_green)],
              H_gold, H_ring_levels, H_ring_a, H_ring_b, H_core, entropy_cmap, entropy_norm)
speckle(ax_h, H_green_dots_r, H_green_dots_z, GRN, 10)
speckle(ax_h, H_light_dots_r, H_light_dots_z, LGT, 16)
speckle(ax_h, H_tan_dots_r, H_tan_dots_z, TAN, 12)
speckle(ax_h, H_gold_dots_r, H_gold_dots_z, GLD, 14)

# bottom row: angular velocity
ax_c = pix_axes(fig, column_left[0], row_top[2], 330, row_height[2])
ax_f = pix_axes(fig, column_left[1], row_top[2], 331, row_height[2])
ax_i = pix_axes(fig, column_left[2], row_top[2], 331, row_height[2])
DOT = 36
ax_c.scatter(C_r, C_w, s=DOT, color='black', linewidths=0)
ax_f.scatter(F_r, F_w, s=DOT, color='black', linewidths=0)
ax_f.scatter(F_band_r, F_band_low, s=DOT, color='black', linewidths=0)
ax_f.scatter(F_band_r, F_band_high, s=DOT, color='black', linewidths=0)
ax_f.fill_between(F_band_r, F_band_low, F_band_high, color='black', linewidth=0)
ax_i.scatter(I_plateau_r, I_plateau_w, s=DOT, color='black', linewidths=0)
ax_i.scatter(I_band_r, I_band_low, s=DOT, color='black', linewidths=0)
ax_i.scatter(I_band_r, I_band_high, s=DOT, color='black', linewidths=0)
ax_i.fill_between(I_band_r, I_band_low, I_band_high, color='black', linewidth=0)
for ax in [ax_c, ax_f, ax_i]:
    ax.plot(kepler_r, kepler_w, color='#f00000', linewidth=2.5)

for ax, lab in [(ax_a, z_labels_top), (ax_d, None), (ax_g, None), (ax_b, z_labels_mid), (ax_e, None), (ax_h, None)]:
    style_axes(ax, (-30, 30), z_ticks, lab, False)
style_axes(ax_c, (0, 0.79), w_ticks, w_labels, True)
style_axes(ax_f, (0, 0.79), w_ticks, None, True)
style_axes(ax_i, (0, 0.79), w_ticks, None, True)

# panel letters
for ax, letter in [(ax_a, 'A'), (ax_b, 'B'), (ax_d, 'D'), (ax_e, 'E'), (ax_g, 'G'), (ax_h, 'H')]:
    ax.text(0.921, 0.925, letter, transform=ax.transAxes, fontsize=FS, ha='center', va='center_baseline')
for ax, letter in [(ax_c, 'C'), (ax_f, 'F'), (ax_i, 'I')]:
    ax.text(0.921, 0.866, letter, transform=ax.transAxes, fontsize=FS, ha='center', va='center_baseline')
ax_a.text(0.05, 0.925, 'Sub-CoRoL', transform=ax_a.transAxes, fontsize=FS, va='center_baseline')
ax_d.text(0.05, 0.925, 'Super-CoRoL', transform=ax_d.transAxes, fontsize=FS, va='center_baseline')
ax_g.text(0.05, 0.925, 'Co-CoRoL', transform=ax_g.transAxes, fontsize=FS, va='center_baseline')

# axis labels
for ax in [ax_c, ax_f, ax_i]:
    ax.set_xlabel('Radius [10$^{6}$ m]', fontsize=FS, labelpad=5)
fig.text(42 / FIG_W, 1 - 190 / FIG_H, 'Distance from midplane\n[10$^{6}$ m]', rotation=90, fontsize=FS, ha='center', va='center',
         multialignment='center', linespacing=1.1)
fig.text(42 / FIG_W, 1 - 575 / FIG_H, 'Distance from midplane\n[10$^{6}$ m]', rotation=90, fontsize=FS, ha='center', va='center',
         multialignment='center', linespacing=1.1)
fig.text(43 / FIG_W, 1 - 866 / FIG_H, 'Ang. velocity\n[10$^{-3}$ rad s$^{-1}$]', rotation=90, fontsize=FS, ha='center', va='center',
         multialignment='center', linespacing=1.1)

# colour bars
cax_p = pix_axes(fig, 1339, 24, 17, 332)
cbar_p = fig.colorbar(ScalarMappable(norm=pressure_norm, cmap=pressure_cmap), cax=cax_p, ticks=pressure_edges[1:-1],
                      spacing='uniform')
cbar_p.set_ticklabels([str(int(t)) if t == int(t) else '' for t in pressure_edges[1:-1]])
cax_p.set_yticks([-2], labels=['-2'], minor=True)
cax_e = pix_axes(fig, 1339, 410, 17, 331)
cbar_e = fig.colorbar(ScalarMappable(norm=entropy_norm, cmap=entropy_cmap), cax=cax_e, ticks=entropy_edges[1:-1],
                      spacing='uniform')
cbar_e.set_ticklabels([str(int(t)) if t == int(t) else '' for t in entropy_edges[1:-1]])
for cax in [cax_p, cax_e]:
    cax.tick_params(which='major', direction='in', length=5, width=1.0, labelsize=FS, pad=5, color='#303030')
    cax.tick_params(which='minor', length=0, labelsize=FS, pad=10)
    for lab in cax.get_yticklabels(which='both'):
        lab.set_verticalalignment('center_baseline')
cbar_p.outline.set_linewidth(1.5)
cbar_e.outline.set_linewidth(1.5)
fig.text(1309 / FIG_W, 1 - 190 / FIG_H, 'Pressure [log$_{10}$(bar)]', rotation=90, fontsize=FS, ha='center', va='center')
fig.text(1307 / FIG_W, 1 - 575 / FIG_H, 'Sp. entropy [kJ K$^{-1}$ kg$^{-1}$]', rotation=90, fontsize=FS, ha='center', va='center')

fig.savefig('out.png', dpi=100)
